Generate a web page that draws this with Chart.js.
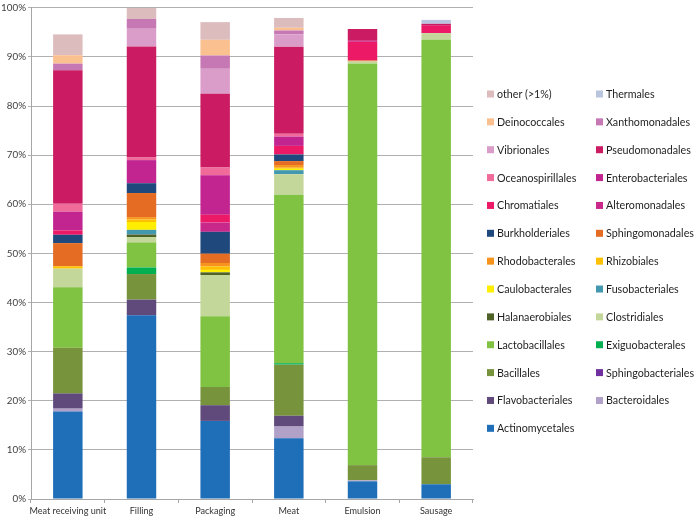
<!DOCTYPE html>
<html>
<head>
<meta charset="utf-8">
<script src="https://cdn.jsdelivr.net/npm/chart.js@4"></script>
<style>
  html, body { margin: 0; padding: 0; background: #fff; }
  #wrap { width: 696px; height: 518px; position: relative; }
</style>
</head>
<body>
<div id="wrap"><canvas id="chart"></canvas></div>
<script>
const samples = ['Meat receiving unit', 'Filling', 'Packaging', 'Meat', 'Emulsion', 'Sausage'];
const yTicks = [0, 10, 20, 30, 40, 50, 60, 70, 80, 90, 100];

// relative abundance (%) per order, bottom of the stack first
const actinomycetales    = [17.8, 37.4, 15.9, 12.35, 3.6, 3.0];
const bacteroidales      = [0.6, 0, 0, 2.4, 0.2, 0];
const flavobacteriales   = [3.1, 3.2, 3.2, 2.2, 0, 0];
const sphingobacteriales = [0, 0, 0, 0, 0, 0];
const bacillales         = [9.3, 5.2, 3.7, 10.4, 3.1, 5.5];
const exiguobacterales   = [0, 1.35, 0, 0.3, 0, 0];
const lactobacillales    = [12.3, 5.1, 14.4, 34.3, 81.8, 85.0];
const clostridiales      = [3.8, 1.1, 8.4, 4.2, 0.4, 1.35];
const halanaerobiales    = [0, 0.5, 0.55, 0, 0, 0];
const fusobacteriales    = [0, 0.95, 0, 0.8, 0, 0];
const caulobacterales    = [0, 1.6, 0.5, 0.3, 0, 0];
const rhizobiales        = [0.5, 0.5, 0.7, 0.2, 0, 0];
const rhodobacterales    = [0, 0.5, 0.7, 0.55, 0, 0];
const sphingomonadales   = [4.7, 4.9, 1.9, 0.8, 0.2, 0];
const burkholderiales    = [1.7, 2.0, 4.45, 1.35, 0, 0];
const alteromonadales    = [0, 0, 1.9, 0, 0, 0];
const chromatiales       = [0.9, 0, 1.6, 1.75, 3.8, 1.5];
const enterobacteriales  = [3.8, 4.7, 8.0, 1.9, 0.2, 0];
const oceanospirillales  = [1.6, 0.55, 1.6, 0.55, 0, 0];
const pseudomonadales    = [27.2, 22.6, 15.0, 17.75, 2.4, 0.4];
const vibrionales        = [0, 3.6, 5.1, 2.5, 0, 0];
const xanthomonadales    = [1.35, 2.0, 2.7, 0.8, 0, 0];
const deinococcales      = [1.7, 0, 3.2, 0.55, 0, 0];
const thermales          = [0, 0, 0, 0, 0, 0.8];
const other              = [4.25, 2.4, 3.6, 2.0, 0, 0];

const series = [
  ['Actinomycetales', actinomycetales, '#1F6EB8'],
  ['Bacteroidales', bacteroidales, '#B1A0C7'],
  ['Flavobacteriales', flavobacteriales, '#604A7B'],
  ['Sphingobacteriales', sphingobacteriales, '#7030A0'],
  ['Bacillales', bacillales, '#77933C'],
  ['Exiguobacterales', exiguobacterales, '#00B050'],
  ['Lactobacillales', lactobacillales, '#80C342'],
  ['Clostridiales', clostridiales, '#C4D79B'],
  ['Halanaerobiales', halanaerobiales, '#4F6228'],
  ['Fusobacteriales', fusobacteriales, '#4198AF'],
  ['Caulobacterales', caulobacterales, '#FFEE00'],
  ['Rhizobiales', rhizobiales, '#FFC000'],
  ['Rhodobacterales', rhodobacterales, '#F7941D'],
  ['Sphingomonadales', sphingomonadales, '#E46C23'],
  ['Burkholderiales', burkholderiales, '#1F497D'],
  ['Alteromonadales', alteromonadales, '#C8288A'],
  ['Chromatiales', chromatiales, '#EC1A66'],
  ['Enterobacteriales', enterobacteriales, '#C22490'],
  ['Oceanospirillales', oceanospirillales, '#F06A9A'],
  ['Pseudomonadales', pseudomonadales, '#CB1B62'],
  ['Vibrionales', vibrionales, '#DA9DC9'],
  ['Xanthomonadales', xanthomonadales, '#C678B4'],
  ['Deinococcales', deinococcales, '#FAC090'],
  ['Thermales', thermales, '#B9C4DE'],
  ['other (>1%)', other, '#DDBCBE']
];

const FONT = 'Lato, "Liberation Sans", sans-serif';

// pick a font size so a sample string gets the width it has in the reference
function fitSize(text, width) {
  const c = document.createElement('canvas').getContext('2d');
  c.font = '20px ' + FONT;
  return Math.round(20 * width / c.measureText(text).width * 10) / 10;
}
const legendSize = fitSize('Sphingobacteriales', 88);
const xSize = fitSize('Meat receiving unit', 77);
const ySize = fitSize('100%', 25);

// excel-style legend: two columns, top of the stack first, filled row by row
const legendTwoCols = {
  id: 'legendTwoCols',
  afterDraw(chart) {
    const ctx = chart.ctx;
    const items = chart.data.datasets.slice().reverse();
    ctx.save();
    ctx.font = legendSize + 'px ' + FONT;
    ctx.textBaseline = 'middle';
    items.forEach((ds, i) => {
      const col = i % 2;
      const row = Math.floor(i / 2);
      const x = col === 0 ? 487 : 596;
      const y = 94 + row * 27.86;
      ctx.fillStyle = ds.backgroundColor;
      ctx.fillRect(x, y - 3.5, 7, 7);
      ctx.fillStyle = '#1E1E1E';
      ctx.fillText(ds.label, x + 10, y + 0.5);
    });
    ctx.restore();
  }
};

new Chart(document.getElementById('chart'), {
  type: 'bar',
  data: {
    labels: samples,
    datasets: series.map(s => ({
      label: s[0],
      data: s[1],
      backgroundColor: s[2],
      borderWidth: 0,
      categoryPercentage: 1,
      barPercentage: 0.4
    }))
  },
  options: {
    responsive: true,
    maintainAspectRatio: false,
    animation: false,
    layout: { padding: { top: 5, right: 223, left: 0, bottom: 0 } },
    plugins: {
      legend: { display: false },
      tooltip: { enabled: false }
    },
    scales: {
      x: {
        stacked: true,
        afterFit: s => { s.height = 19; },
        grid: { drawOnChartArea: false, tickLength: 4, color: '#A6A6A6' },
        border: { color: '#A6A6A6' },
        ticks: {
          color: '#333333',
          padding: 3,
          autoSkip: false,
          maxRotation: 0,
          font: { family: FONT, size: xSize }
        }
      },
      y: {
        stacked: true,
        min: 0,
        max: 100,
        afterFit: s => { s.width = 31; },
        afterBuildTicks: s => { s.ticks = yTicks.map(v => ({ value: v })); },
        grid: { color: '#B0B0B0', tickLength: 3 },
        border: { color: '#A6A6A6' },
        ticks: {
          color: '#404040',
          padding: 2,
          font: { family: FONT, size: ySize },
          callback: v => v + '%'
        }
      }
    }
  },
  plugins: [legendTwoCols]
});
</script>
</body>
</html>
